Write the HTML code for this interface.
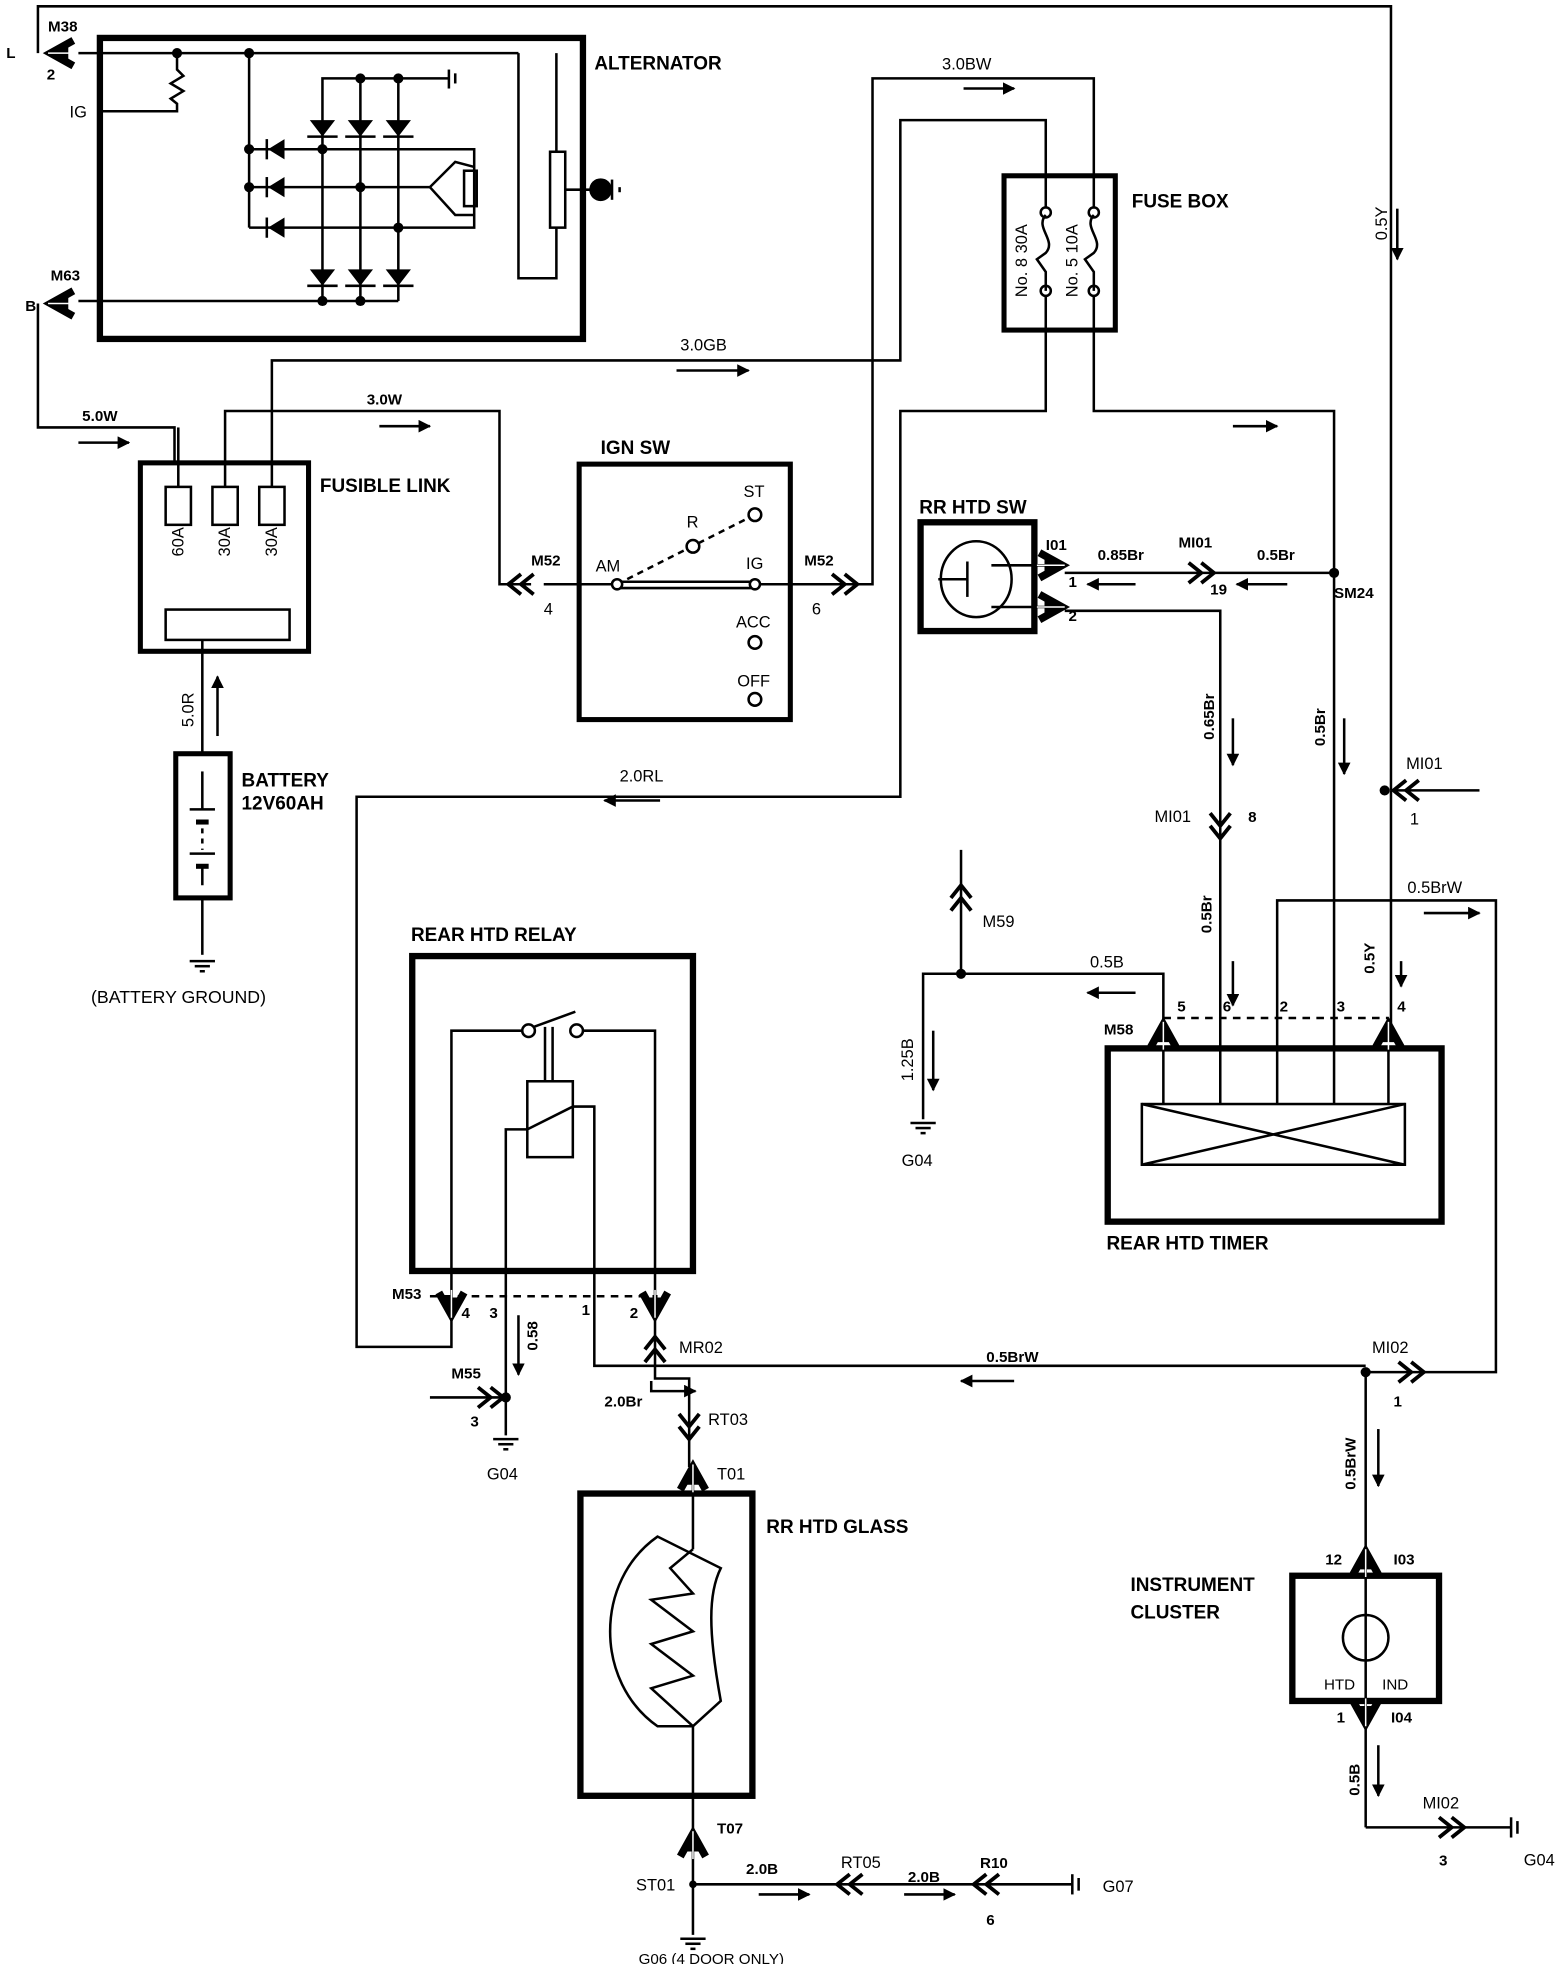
<!DOCTYPE html>
<html><head><meta charset="utf-8"><style>
html,body{margin:0;padding:0;background:#fff}
svg{display:block}
text{font-family:"Liberation Sans",sans-serif;font-size:13px;fill:#000}
.b{font-weight:bold;font-size:15px}
.s{font-weight:bold;font-size:12px}
</style></head><body>
<svg width="1568" height="1964" viewBox="0 0 1240 1553" preserveAspectRatio="none" xmlns="http://www.w3.org/2000/svg">
<defs>
<marker id="ah" markerWidth="10" markerHeight="10" refX="9" refY="5" orient="auto" markerUnits="userSpaceOnUse"><path d="M0,0 L10,5 L0,10 z" fill="#000"/></marker>
<g id="dc" fill="none" stroke="#000" stroke-width="3"><polyline points="-22,-8 -12,0 -22,8"/><polyline points="-12,-8 -2,0 -12,8"/></g>
<g id="fc"><polyline points="-20,-10 -2,0 -20,10" fill="none" stroke="#000" stroke-width="6"/><path d="M0,0 L-16,-7 L-16,7 Z" fill="#000"/><line x1="-22" y1="0" x2="0" y2="0" stroke="#fff" stroke-width="1.2"/></g>
<g id="gnd" stroke="#000" stroke-width="2"><line x1="-10" y1="0" x2="10" y2="0"/><line x1="-6" y1="4" x2="6" y2="4"/><line x1="-2" y1="8" x2="2" y2="8"/></g>
</defs>
<g fill="none" stroke="#000" stroke-width="2">
<rect x="79" y="30" width="382" height="238" stroke-width="5"/>
<polyline points="30,42 30,5 1100,5 1100,625"/>
<line x1="1100" y1="625" x2="1100" y2="810"/>
<line x1="62" y1="42" x2="410" y2="42"/>
<polyline points="410,42 410,220 440,220 440,180"/><line x1="440" y1="42" x2="440" y2="120"/><rect x="435" y="120" width="12" height="60"/>
<line x1="447" y1="150" x2="470" y2="150"/>
<polyline points="140,42 140,55 145,60 135,66 145,72 135,78 140,82 140,88 80,88"/>
<line x1="197" y1="42" x2="197" y2="180"/>
<polyline points="197,118 375,118 375,180 197,180"/>
<line x1="197" y1="148" x2="340" y2="148"/>
<polyline points="255,238 255,62 355,62"/><line x1="285" y1="62" x2="285" y2="238"/><line x1="315" y1="62" x2="315" y2="238"/>
<line x1="355" y1="55" x2="355" y2="70"/><line x1="360" y1="58" x2="360" y2="66"/>
<line x1="62" y1="238" x2="315" y2="238"/>
<polyline points="30,240 30,338 138,338 138,365"/>
<path d="M340,148 L360,128 L375,132 M340,148 L360,170 L375,170"/><rect x="367" y="135" width="10" height="28"/>
<rect x="111" y="366" width="133" height="149" stroke-width="4"/>
<rect x="131" y="385" width="20" height="30"/><rect x="168" y="385" width="20" height="30"/><rect x="205" y="385" width="20" height="30"/>
<rect x="131" y="482" width="98" height="24"/>
<line x1="141" y1="338" x2="141" y2="385"/>
<polyline points="178,385 178,325 395,325 395,462 420,462"/>
<polyline points="215,385 215,285 712,285 712,95 827,95 827,165"/>
<line x1="160" y1="506" x2="160" y2="595"/>
<rect x="139" y="596" width="43" height="114" stroke-width="4"/>
<line x1="160" y1="610" x2="160" y2="640"/><line x1="150" y1="640" x2="170" y2="640"/><line x1="155" y1="650" x2="165" y2="650" stroke-width="4"/>
<line x1="160" y1="655" x2="160" y2="672" stroke-dasharray="4 4"/><line x1="150" y1="675" x2="170" y2="675"/><line x1="155" y1="685" x2="165" y2="685" stroke-width="4"/><line x1="160" y1="685" x2="160" y2="700"/>
<line x1="160" y1="710" x2="160" y2="755"/>
<rect x="458" y="367" width="167" height="202" stroke-width="4"/>
<line x1="430" y1="462" x2="488" y2="462"/>
<line x1="488" y1="460" x2="597" y2="460" stroke-width="2"/><line x1="488" y1="465" x2="597" y2="465"/>
<line x1="488" y1="462" x2="597" y2="407" stroke-dasharray="5 4"/>
<polyline points="597,462 690,462 690,62 865,62 865,165"/>
<circle cx="488" cy="462" r="4" fill="#fff"/><circle cx="548" cy="432" r="5" fill="#fff"/><circle cx="597" cy="407" r="5" fill="#fff"/><circle cx="597" cy="462" r="4" fill="#fff"/><circle cx="597" cy="508" r="5" fill="#fff"/><circle cx="597" cy="553" r="5" fill="#fff"/>
<rect x="794" y="139" width="88" height="122" stroke-width="4"/>
<path d="M827,170 C818,180 836,190 827,200 L820,205 L827,215 V230"/><circle cx="827" cy="168" r="4"/><circle cx="827" cy="230" r="4"/>
<path d="M865,170 C856,180 874,190 865,200 L858,205 L865,215 V230"/><circle cx="865" cy="168" r="4"/><circle cx="865" cy="230" r="4"/>
<polyline points="827,234 827,325 712,325 712,630 282,630 282,1065 357,1065 357,1040"/>
<polyline points="865,234 865,325 1055,325 1055,828"/>
<rect x="728" y="413" width="90" height="86" stroke-width="5"/>
<ellipse cx="772" cy="458" rx="28" ry="30"/><line x1="742" y1="458" x2="765" y2="458"/><line x1="765" y1="444" x2="765" y2="472"/>
<line x1="784" y1="447" x2="842" y2="447"/><line x1="784" y1="480" x2="842" y2="480"/>
<line x1="842" y1="453" x2="1055" y2="453"/>
<polyline points="842,483 965,483 965,828"/>
<rect x="876" y="829" width="264" height="137" stroke-width="5"/>
<rect x="903" y="873" width="208" height="48"/><line x1="903" y1="873" x2="1111" y2="921"/><line x1="903" y1="921" x2="1111" y2="873"/>
<line x1="920" y1="828" x2="920" y2="873"/><line x1="965" y1="828" x2="965" y2="873"/><line x1="1010" y1="828" x2="1010" y2="873"/><line x1="1055" y1="828" x2="1055" y2="873"/><line x1="1098" y1="828" x2="1098" y2="873"/>
<line x1="920" y1="805" x2="1098" y2="805" stroke-dasharray="6 5"/>
<polyline points="1010,828 1010,712 1183,712 1183,1085 1080,1085"/>
<polyline points="920,810 920,770 730,770 730,885"/>
<line x1="760" y1="672" x2="760" y2="770"/>
<polyline points="1100,625 1170,625"/>
<rect x="326" y="756" width="222" height="249" stroke-width="5"/>
<polyline points="357,1035 357,815 413,815"/><polyline points="460,815 518,815 518,1035"/>
<circle cx="418" cy="815" r="5" fill="#fff"/><circle cx="456" cy="815" r="5" fill="#fff"/><line x1="422" y1="812" x2="455" y2="800"/>
<line x1="431" y1="812" x2="431" y2="855"/><line x1="437" y1="812" x2="437" y2="855"/>
<rect x="417" y="855" width="36" height="60"/><line x1="417" y1="893" x2="453" y2="875"/>
<polyline points="453,875 470,875 470,1080 1080,1080"/>
<polyline points="417,893 400,893 400,1135"/>
<line x1="340" y1="1025" x2="520" y2="1025" stroke-dasharray="6 5"/>
<line x1="340" y1="1105" x2="400" y2="1105"/>
<polyline points="518,1035 518,1090 545,1090 545,1160"/>
<rect x="459" y="1181" width="136" height="239" stroke-width="5"/>
<line x1="548" y1="1160" x2="548" y2="1225"/>
<path d="M520,1215 C470,1250 470,1330 520,1365 L548,1365 L570,1345 C560,1290 560,1260 570,1240 Z"/>
<polyline points="548,1225 530,1240 548,1260 515,1265 548,1290 515,1300 548,1325 515,1335 548,1365"/>
<line x1="548" y1="1365" x2="548" y2="1530"/>
<line x1="548" y1="1490" x2="848" y2="1490"/>
<line x1="848" y1="1482" x2="848" y2="1498"/><line x1="853" y1="1485" x2="853" y2="1495"/>
<rect x="1022" y="1246" width="116" height="99" stroke-width="5"/>
<line x1="1080" y1="1085" x2="1080" y2="1445"/>
<circle cx="1080" cy="1295" r="18"/>
<polyline points="1080,1445 1195,1445"/><line x1="1195" y1="1437" x2="1195" y2="1453"/><line x1="1200" y1="1440" x2="1200" y2="1450"/>
<g marker-end="url(#ah)">
<line x1="62" y1="350" x2="102" y2="350"/><line x1="300" y1="337" x2="340" y2="337"/><line x1="535" y1="293" x2="592" y2="293"/>
<line x1="762" y1="70" x2="802" y2="70"/><line x1="1105" y1="165" x2="1105" y2="205"/><line x1="975" y1="337" x2="1010" y2="337"/>
<line x1="172" y1="582" x2="172" y2="535"/><line x1="522" y1="633" x2="478" y2="633"/>
<line x1="898" y1="462" x2="860" y2="462"/><line x1="1018" y1="462" x2="978" y2="462"/>
<line x1="975" y1="568" x2="975" y2="605"/><line x1="1063" y1="568" x2="1063" y2="612"/>
<line x1="975" y1="760" x2="975" y2="795"/><line x1="1108" y1="760" x2="1108" y2="780"/>
<line x1="1126" y1="722" x2="1170" y2="722"/><line x1="898" y1="785" x2="860" y2="785"/>
<line x1="738" y1="815" x2="738" y2="862"/><line x1="410" y1="1040" x2="410" y2="1087"/>
<line x1="802" y1="1092" x2="760" y2="1092"/><line x1="1090" y1="1130" x2="1090" y2="1175"/>
<line x1="1090" y1="1380" x2="1090" y2="1420"/><line x1="600" y1="1498" x2="640" y2="1498"/><line x1="715" y1="1498" x2="755" y2="1498"/>
<polyline points="515,1092 515,1100 550,1100"/>
</g>
</g>
<g fill="#000">
<circle cx="140" cy="42" r="4"/><circle cx="197" cy="42" r="4"/><circle cx="197" cy="118" r="4"/><circle cx="197" cy="148" r="4"/><circle cx="255" cy="118" r="4"/><circle cx="285" cy="148" r="4"/><circle cx="315" cy="180" r="4"/><circle cx="285" cy="62" r="4"/><circle cx="315" cy="62" r="4"/><circle cx="255" cy="238" r="4"/><circle cx="285" cy="238" r="4"/>
<circle cx="475" cy="150" r="9"/>
<circle cx="1055" cy="453" r="4"/><circle cx="1095" cy="625" r="4"/><circle cx="760" cy="770" r="4"/><circle cx="400" cy="1105" r="4"/><circle cx="1080" cy="1085" r="4"/><circle cx="548" cy="1490" r="3"/>
<path d="M245,95 h20 l-10,13z M275,95 h20 l-10,13z M305,95 h20 l-10,13z M245,213 h20 l-10,13z M275,213 h20 l-10,13z M305,213 h20 l-10,13z"/>
<path d="M225,110 v16 l-13,-8z M225,140 v16 l-13,-8z M225,172 v16 l-13,-8z"/>
</g>
<g stroke="#000" stroke-width="2"><line x1="243" y1="108" x2="267" y2="108"/><line x1="273" y1="108" x2="297" y2="108"/><line x1="303" y1="108" x2="327" y2="108"/><line x1="243" y1="226" x2="267" y2="226"/><line x1="273" y1="226" x2="297" y2="226"/><line x1="303" y1="226" x2="327" y2="226"/><line x1="211" y1="110" x2="211" y2="126"/><line x1="211" y1="140" x2="211" y2="156"/><line x1="211" y1="172" x2="211" y2="188"/><line x1="484" y1="142" x2="484" y2="158"/><line x1="490" y1="148" x2="490" y2="152"/></g>
<use href="#gnd" transform="translate(160,760)"/><use href="#gnd" transform="translate(730,888)"/><use href="#gnd" transform="translate(400,1138)"/><use href="#gnd" transform="translate(548,1533)"/>
<use href="#fc" transform="translate(38,42) rotate(180)"/><use href="#fc" transform="translate(38,240) rotate(180)"/>
<use href="#fc" transform="translate(842,447)"/><use href="#fc" transform="translate(842,480)"/>
<use href="#fc" transform="translate(920,808) rotate(-90)"/><use href="#fc" transform="translate(1098,808) rotate(-90)"/>
<use href="#fc" transform="translate(357,1042) rotate(90)"/><use href="#fc" transform="translate(518,1042) rotate(90)"/>
<use href="#fc" transform="translate(548,1158) rotate(-90)"/><use href="#fc" transform="translate(548,1448) rotate(-90)"/>
<use href="#fc" transform="translate(1080,1225) rotate(-90)"/><use href="#fc" transform="translate(1080,1365) rotate(90)"/>
<use href="#dc" transform="translate(400,462) rotate(180)"/><use href="#dc" transform="translate(680,462)"/>
<use href="#dc" transform="translate(962,453)"/><use href="#dc" transform="translate(965,665) rotate(90)"/>
<use href="#dc" transform="translate(1100,625) rotate(180)"/><use href="#dc" transform="translate(760,698) rotate(-90)"/>
<use href="#dc" transform="translate(400,1105)"/><use href="#dc" transform="translate(518,1055) rotate(-90)"/>
<use href="#dc" transform="translate(545,1140) rotate(90)"/><use href="#dc" transform="translate(1128,1085)"/>
<use href="#dc" transform="translate(1160,1445)"/><use href="#dc" transform="translate(660,1490) rotate(180)"/><use href="#dc" transform="translate(768,1490) rotate(180)"/>
<text x="5" y="46" class="s">L</text><text x="38" y="25" class="s">M38</text><text x="37" y="63" class="s">2</text><text x="55" y="93">IG</text>
<text x="40" y="222" class="s">M63</text><text x="20" y="246" class="s">B</text>
<text x="470" y="55" class="b">ALTERNATOR</text>
<text x="65" y="333" class="s">5.0W</text><text x="290" y="320" class="s">3.0W</text><text x="538" y="277">3.0GB</text><text x="745" y="55">3.0BW</text>
<text x="253" y="389" class="b">FUSIBLE LINK</text><text x="475" y="359" class="b">IGN SW</text>
<text x="895" y="164" class="b">FUSE BOX</text>
<text transform="translate(812,235) rotate(-90)">No. 8 30A</text><text transform="translate(852,235) rotate(-90)">No. 5 10A</text>
<text transform="translate(1097,190) rotate(-90)">0.5Y</text>
<text transform="translate(145,440) rotate(-90)">60A</text><text transform="translate(182,440) rotate(-90)">30A</text><text transform="translate(219,440) rotate(-90)">30A</text>
<text x="588" y="393">ST</text><text x="543" y="417">R</text><text x="471" y="452">AM</text><text x="590" y="450">IG</text><text x="582" y="496">ACC</text><text x="583" y="543">OFF</text>
<text x="420" y="447" class="s">M52</text><text x="430" y="486">4</text><text x="636" y="447" class="s">M52</text><text x="642" y="486">6</text>
<text transform="translate(153,575) rotate(-90)">5.0R</text>
<text x="191" y="622" class="b">BATTERY</text><text x="191" y="640" class="b">12V60AH</text>
<text x="72" y="793" style="font-size:14px">(BATTERY GROUND)</text>
<text x="490" y="618">2.0RL</text>
<text x="727" y="406" class="b">RR HTD SW</text>
<text x="827" y="435" class="s">I01</text><text x="868" y="443" class="s">0.85Br</text><text x="932" y="433" class="s">MI01</text><text x="994" y="443" class="s">0.5Br</text>
<text x="845" y="464" class="s">1</text><text x="845" y="491" class="s">2</text><text x="957" y="470" class="s">19</text><text x="1055" y="473" class="s">SM24</text>
<text transform="translate(960,585) rotate(-90)" class="s">0.65Br</text><text transform="translate(1048,590) rotate(-90)" class="s">0.5Br</text>
<text x="913" y="650">MI01</text><text x="987" y="650" class="s">8</text><text x="1112" y="608">MI01</text><text x="1115" y="652">1</text>
<text transform="translate(958,738) rotate(-90)" class="s">0.5Br</text>
<text x="1113" y="706">0.5BrW</text><text transform="translate(1087,770) rotate(-90)" class="s">0.5Y</text>
<text x="777" y="733">M59</text><text x="862" y="765">0.5B</text>
<text transform="translate(722,855) rotate(-90)">1.25B</text><text x="713" y="922">G04</text>
<text x="931" y="800" class="s">5</text><text x="967" y="800" class="s">6</text><text x="1012" y="800" class="s">2</text><text x="1057" y="800" class="s">3</text><text x="1105" y="800" class="s">4</text>
<text x="873" y="818" class="s">M58</text>
<text x="875" y="988" class="b">REAR HTD TIMER</text>
<text x="325" y="744" class="b">REAR HTD RELAY</text>
<text x="310" y="1027" class="s">M53</text><text x="365" y="1042" class="s">4</text><text x="387" y="1042" class="s">3</text><text x="460" y="1040" class="s">1</text><text x="498" y="1042" class="s">2</text>
<text transform="translate(425,1068) rotate(-90)" class="s">0.58</text>
<text x="537" y="1070">MR02</text><text x="780" y="1077" class="s">0.5BrW</text><text x="1085" y="1070">MI02</text><text x="1102" y="1112" class="s">1</text>
<text x="357" y="1090" class="s">M55</text><text x="372" y="1128" class="s">3</text><text x="385" y="1170">G04</text>
<text x="478" y="1112" class="s">2.0Br</text><text x="560" y="1127">RT03</text><text x="567" y="1170">T01</text>
<text x="606" y="1212" class="b">RR HTD GLASS</text>
<text x="567" y="1450" class="s">T07</text><text x="503" y="1495">ST01</text><text x="590" y="1482" class="s">2.0B</text><text x="665" y="1477">RT05</text>
<text x="718" y="1488" class="s">2.0B</text><text x="775" y="1477" class="s">R10</text><text x="780" y="1522" class="s">6</text><text x="872" y="1496">G07</text>
<text x="505" y="1553" style="font-size:12px">G06 (4 DOOR ONLY)</text>
<text transform="translate(1072,1178) rotate(-90)" class="s">0.5BrW</text>
<text x="1048" y="1237" class="s">12</text><text x="1102" y="1237" class="s">I03</text>
<text x="894" y="1258" class="b">INSTRUMENT</text><text x="894" y="1280" class="b">CLUSTER</text>
<text x="1047" y="1336" style="font-size:12px">HTD</text><text x="1093" y="1336" style="font-size:12px">IND</text>
<text x="1057" y="1362" class="s">1</text><text x="1100" y="1362" class="s">I04</text>
<text transform="translate(1075,1420) rotate(-90)" class="s">0.5B</text>
<text x="1125" y="1430">MI02</text><text x="1138" y="1475" class="s">3</text><text x="1205" y="1475">G04</text>
</svg>
</body></html>
